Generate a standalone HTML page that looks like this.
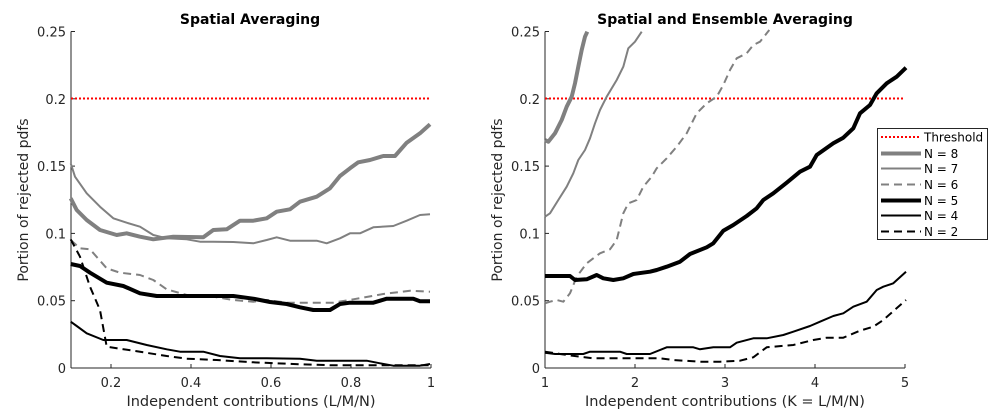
<!DOCTYPE html>
<html><head><meta charset="utf-8"><style>
html,body{margin:0;padding:0;background:#fff}
svg{display:block;font-family:"DejaVu Sans","Liberation Sans",sans-serif}
</style></head><body>
<svg id="s" width="1003" height="413" viewBox="0 0 1003 413" xmlns="http://www.w3.org/2000/svg">
<rect width="1003" height="413" fill="#fff"/>
<g fill="#262626" font-size="13">
<text x="250" y="24" text-anchor="middle" font-weight="bold" font-size="14" fill="#000">Spatial Averaging</text>
<text x="725" y="24" text-anchor="middle" font-weight="bold" font-size="14" fill="#000">Spatial and Ensemble Averaging</text>
<text x="251" y="406" text-anchor="middle" font-size="14.5">Independent contributions (L/M/N)</text>
<text x="725" y="406" text-anchor="middle" font-size="14.5">Independent contributions (K = L/M/N)</text>
<text transform="translate(28,200) rotate(-90)" text-anchor="middle" font-size="14">Portion of rejected pdfs</text>
<text transform="translate(502,200) rotate(-90)" text-anchor="middle" font-size="14">Portion of rejected pdfs</text>
</g>
<g id="g"></g>
</svg>
<script>
var g=document.getElementById('g'),h='';
function ax(x0,x1,xt,xl){
 h+='<line x1="'+x0+'" y1="31.5" x2="'+x0+'" y2="368" stroke="#262626"/>';
 h+='<line x1="'+x0+'" y1="368" x2="'+x1+'" y2="368" stroke="#262626"/>';
 var yl=['0','0.05','0.1','0.15','0.2','0.25'];
 for(var i=0;i<6;i++){var y=368-i*67.3;h+='<line x1="'+x0+'" y1="'+y+'" x2="'+(x0+4)+'" y2="'+y+'" stroke="#262626"/>';
 h+='<text x="'+(x0-5)+'" y="'+(y+5)+'" text-anchor="end" font-size="13" fill="#262626">'+yl[i]+'</text>';}
 for(var i=0;i<xt.length;i++){h+='<line x1="'+xt[i]+'" y1="368" x2="'+xt[i]+'" y2="364" stroke="#262626"/>';
 h+='<text x="'+xt[i]+'" y="387" text-anchor="middle" font-size="13" fill="#262626">'+xl[i]+'</text>';}
 h+='<line x1="'+x0+'" y1="98.5" x2="'+x1+'" y2="98.5" stroke="#f00" stroke-width="2" stroke-dasharray="2,2"/>';
}
ax(71,431,[111,191,271,351,431],['0.2','0.4','0.6','0.8','1']);
ax(545,905,[545,635,725,815,905],['1','2','3','4','5']);
function pl(off,a,c,w,d){var p=[];for(var i=0;i<a.length;i+=2)p.push((off+a[i]/3).toFixed(1)+','+(a[i+1]/3).toFixed(1));
 h+='<polyline points="'+p.join(' ')+'" fill="none" stroke="'+c+'" stroke-width="'+w+'" stroke-linejoin="round"'+(d?' stroke-dasharray="'+d+'"':'')+'/>';}
var G='#808080';
pl(0,[212,595,230,630,260,660,300,690,350,705,380,700,420,710,460,718,520,710,610,712,640,690,680,688,720,662,760,662,800,655,830,635,870,628,900,605,950,590,990,565,1020,528,1050,505,1075,487,1110,480,1150,468,1185,468,1220,428,1260,400,1290,373],G,4);
pl(0,[212,490,225,530,260,580,300,620,340,655,380,668,420,680,460,705,500,715,560,718,600,725,640,725,700,726,760,730,800,720,830,712,870,722,950,722,980,730,1020,715,1050,700,1080,700,1120,682,1180,678,1220,662,1260,645,1290,643],G,2);
pl(0,[212,720,240,745,270,748,320,805,360,818,420,825,460,840,500,868,560,885,640,890,700,900,760,905,800,900,860,908,1000,908,1060,898,1150,882,1230,872,1290,875],G,2,'8,5');
pl(0,[212,792,240,798,270,818,320,848,370,858,420,880,470,888,560,888,700,888,760,896,810,906,860,912,900,922,940,930,990,930,1020,912,1050,908,1120,908,1160,896,1200,896,1240,896,1260,904,1290,904],'#000',4);
pl(0,[212,965,230,978,260,1000,310,1020,380,1020,440,1035,500,1048,540,1055,610,1055,660,1068,720,1075,800,1075,900,1076,950,1082,1100,1082,1140,1090,1180,1097,1260,1097,1290,1092],'#000',2);
pl(0,[212,718,240,770,270,860,300,930,320,1040,400,1052,500,1068,560,1076,650,1080,760,1087,900,1093,1000,1096,1290,1096],'#000',2,'8,5');
pl(500,[135,420,145,425,165,400,185,360,200,320,215,290,225,250,235,200,245,150,255,110,262,95],G,4);
pl(500,[135,650,150,640,175,600,200,560,220,520,235,480,255,450,270,415,285,370,300,330,320,290,350,240,370,200,385,145,405,125,425,95],G,2);
pl(500,[135,910,150,905,170,900,190,905,210,880,230,830,260,790,300,760,330,748,350,720,370,640,385,610,410,600,430,560,455,530,470,505,500,475,530,440,560,400,590,340,620,310,650,290,670,255,690,210,710,175,740,160,760,135,780,125,800,100,808,90],G,2,'8,5');
pl(500,[135,828,210,828,225,840,260,838,290,825,310,835,340,840,370,835,400,822,450,815,470,810,500,800,540,785,570,762,620,742,640,730,670,692,700,675,740,648,770,625,790,600,820,580,860,548,900,515,930,500,950,465,1000,430,1030,413,1060,385,1080,340,1110,315,1130,280,1160,250,1190,230,1218,203],'#000',4);
pl(500,[135,1058,165,1062,250,1062,270,1055,360,1055,380,1062,450,1062,500,1042,580,1042,600,1048,640,1042,690,1042,710,1028,760,1015,800,1015,850,1005,880,995,930,978,960,965,1000,948,1030,940,1060,920,1100,905,1130,870,1150,860,1180,850,1218,815],'#000',2);
pl(500,[135,1055,180,1062,240,1070,280,1075,480,1075,520,1080,600,1085,660,1085,720,1082,760,1072,800,1042,880,1035,940,1020,980,1013,1030,1013,1080,992,1120,980,1150,960,1218,900],'#000',2,'8,5');
h+='<rect x="877.5" y="128.5" width="110" height="111" fill="#fff" stroke="#262626"/>';
var L=[['Threshold','#f00',2,'2,2'],['N = 8',G,4,''],['N = 7',G,2,''],['N = 6',G,2,'8,5'],['N = 5','#000',4,''],['N = 4','#000',2,''],['N = 2','#000',2,'8,5']];
var ys=[137,153.5,168.5,184.5,200.5,215.5,231.5];
for(var i=0;i<L.length;i++){h+='<line x1="881" y1="'+ys[i]+'" x2="921" y2="'+ys[i]+'" stroke="'+L[i][1]+'" stroke-width="'+L[i][2]+'"'+(L[i][3]?' stroke-dasharray="'+L[i][3]+'"':'')+'/>';
 h+='<text x="924" y="'+(ys[i]+4.5)+'" font-size="12" fill="#000">'+L[i][0]+'</text>';}
g.innerHTML=h;
</script>
</body></html>
